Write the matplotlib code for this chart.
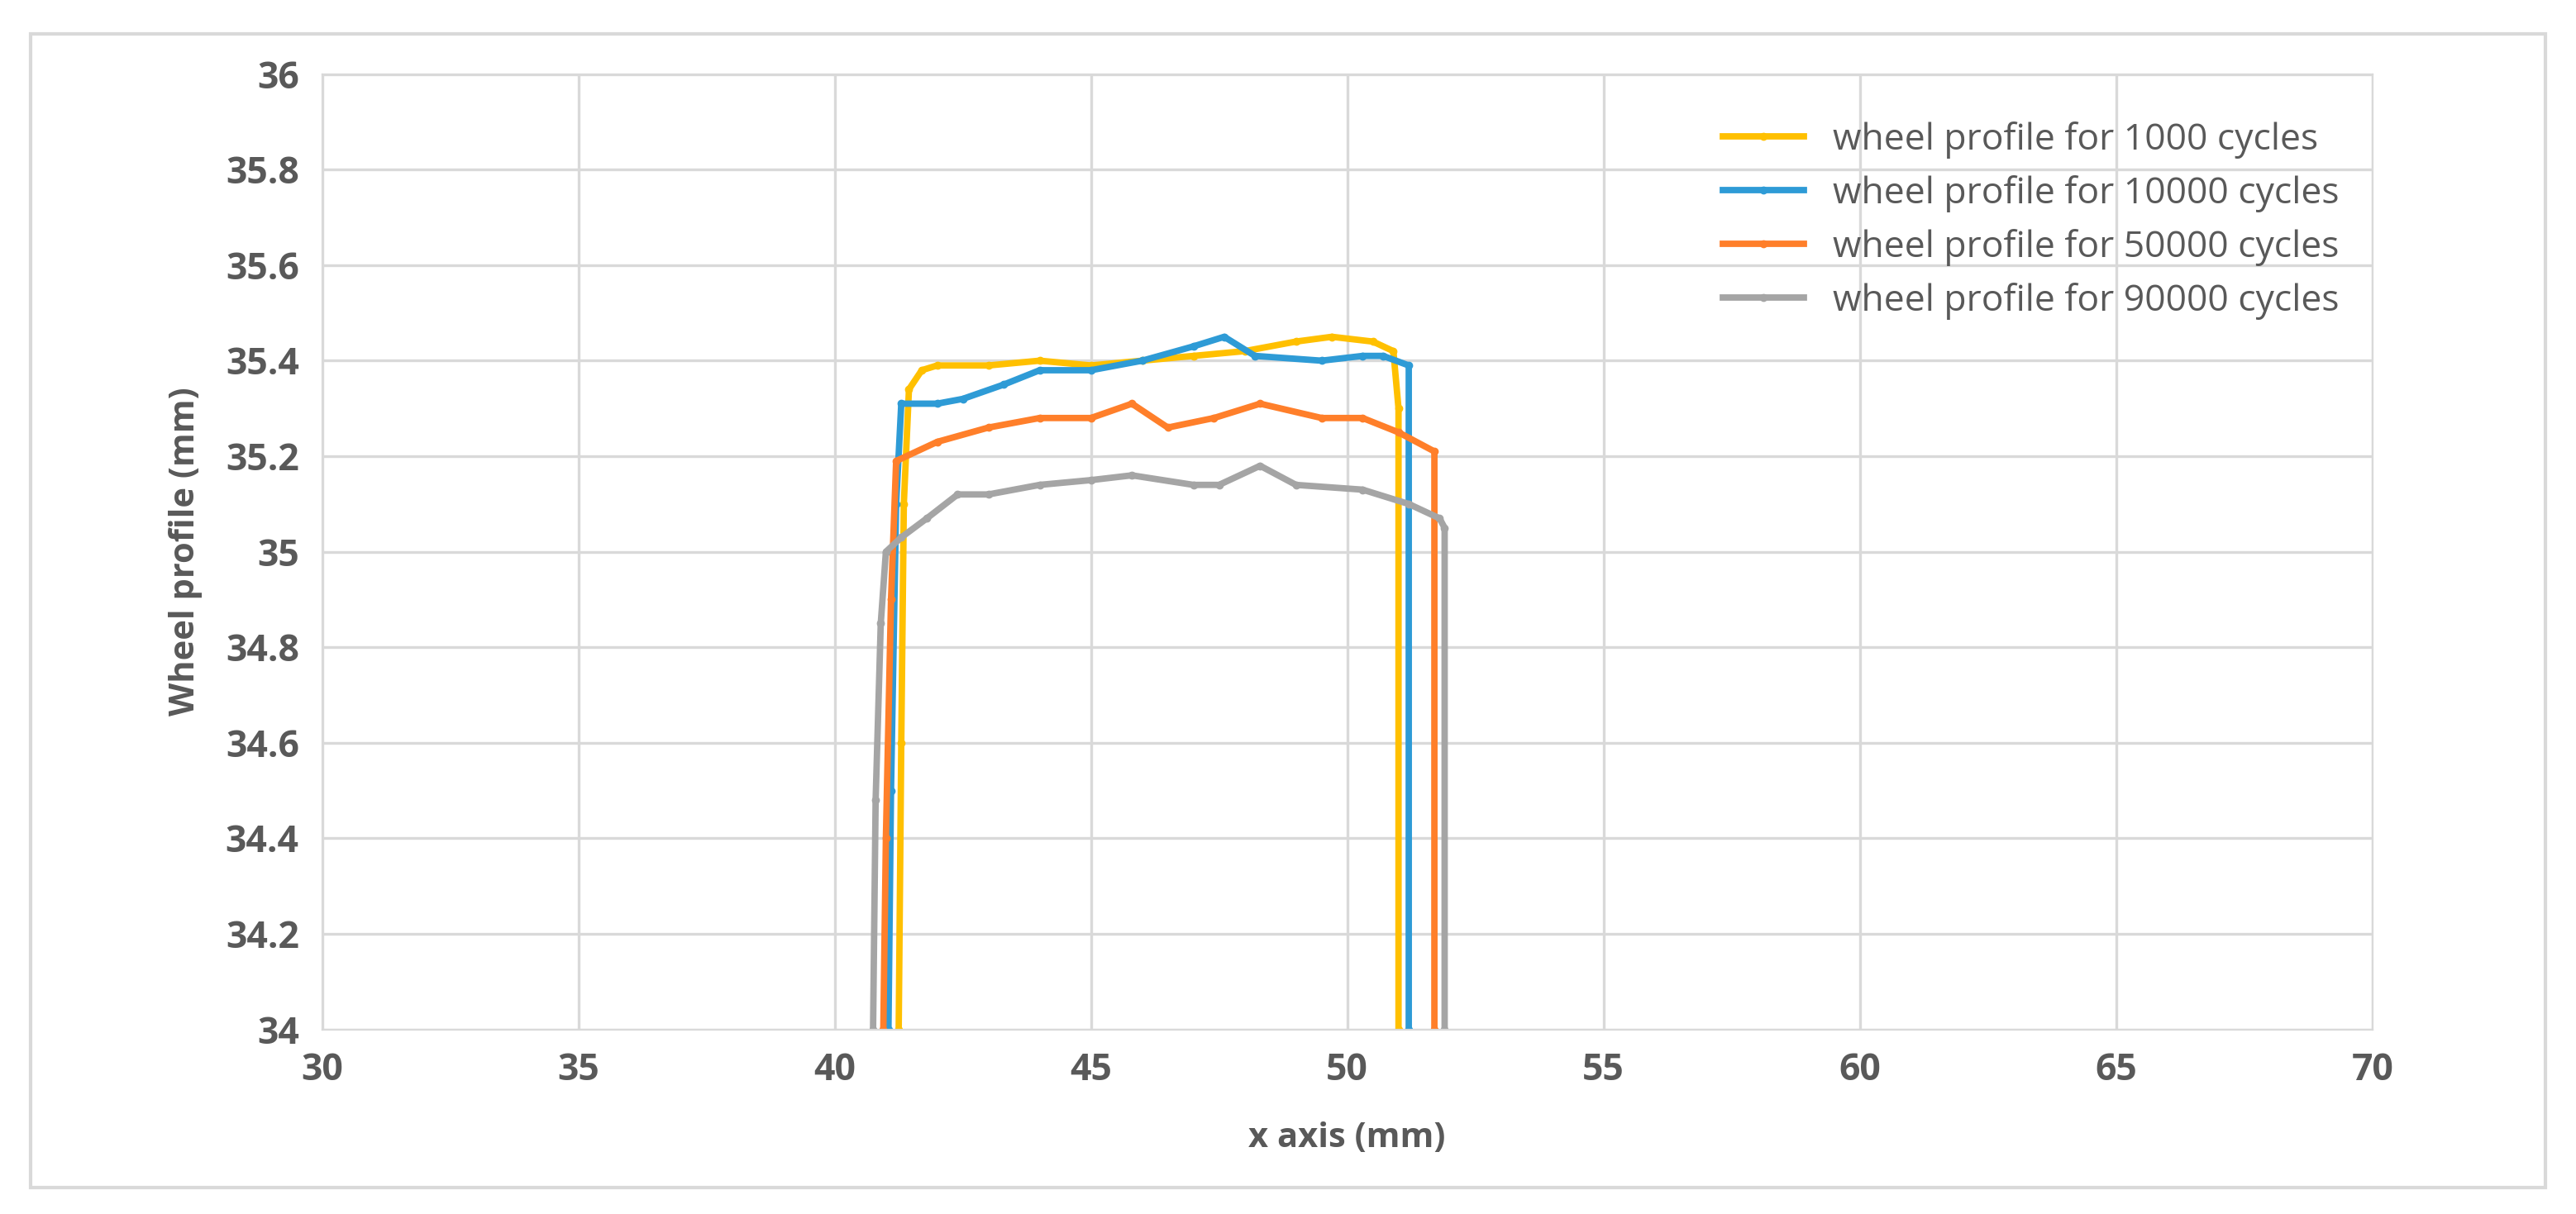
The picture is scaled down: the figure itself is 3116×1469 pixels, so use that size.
import matplotlib
matplotlib.use('Agg')
import matplotlib.pyplot as plt
from matplotlib.patches import Rectangle

# values
x_1000 = [41.25, 41.3, 41.35, 41.45, 41.7, 42.0, 43.0, 44.0, 45.0, 46.0, 47.0, 48.0, 49.0, 49.7, 50.5, 50.9, 51.0, 51.0]
y_1000 = [34.0, 34.6, 35.1, 35.34, 35.38, 35.39, 35.39, 35.40, 35.39, 35.40, 35.41, 35.42, 35.44, 35.45, 35.44, 35.42, 35.3, 34.0]

x_10000 = [41.05, 41.1, 41.2, 41.3, 42.0, 42.5, 43.3, 44.0, 45.0, 46.0, 47.0, 47.6, 48.2, 49.5, 50.3, 50.7, 51.2, 51.2]
y_10000 = [34.0, 34.5, 35.1, 35.31, 35.31, 35.32, 35.35, 35.38, 35.38, 35.40, 35.43, 35.45, 35.41, 35.40, 35.41, 35.41, 35.39, 34.0]

x_50000 = [40.95, 41.0, 41.1, 41.2, 42.0, 43.0, 44.0, 45.0, 45.8, 46.5, 47.4, 48.3, 49.5, 50.3, 51.0, 51.7, 51.7]
y_50000 = [34.0, 34.4, 34.9, 35.19, 35.23, 35.26, 35.28, 35.28, 35.31, 35.26, 35.28, 35.31, 35.28, 35.28, 35.25, 35.21, 34.0]

x_90000 = [40.75, 40.8, 40.9, 41.0, 41.3, 41.8, 42.4, 43.0, 44.0, 45.0, 45.8, 47.0, 47.5, 48.3, 49.0, 50.3, 51.2, 51.8, 51.9, 51.9]
y_90000 = [34.0, 34.48, 34.85, 35.0, 35.03, 35.07, 35.12, 35.12, 35.14, 35.15, 35.16, 35.14, 35.14, 35.18, 35.14, 35.13, 35.10, 35.07, 35.05, 34.0]

series = [
    (x_1000, y_1000, '#FFC000', 'wheel profile for 1000 cycles'),
    (x_10000, y_10000, '#2E9BD6', 'wheel profile for 10000 cycles'),
    (x_50000, y_50000, '#FF7F2A', 'wheel profile for 50000 cycles'),
    (x_90000, y_90000, '#A5A5A5', 'wheel profile for 90000 cycles'),
]

plt.rcParams['font.family'] = ['Open Sans', 'DejaVu Sans']
text_color = '#595959'

fig = plt.figure(figsize=(15.58, 7.345), dpi=200)
ax = fig.add_axes([0.125, 0.152, 0.796, 0.787])

for xs, ys, color, label in series:
    ax.plot(xs, ys, color=color, linewidth=2.8, marker='o', markersize=2.5, label=label)

ax.set_xlim(30, 70)
ax.set_ylim(34, 36)
ax.set_xticks(range(30, 71, 5))
ax.set_yticks([34 + 0.2 * i for i in range(11)])
ax.set_yticklabels(['34', '34.2', '34.4', '34.6', '34.8', '35', '35.2', '35.4', '35.6', '35.8', '36'])
ax.grid(True, color='#D9D9D9', linewidth=1.2)
ax.set_axisbelow(True)
for s in ax.spines.values():
    s.set_color('#D9D9D9')
ax.tick_params(length=0, labelsize=16, labelcolor=text_color, pad=10)
for lab in ax.get_xticklabels() + ax.get_yticklabels():
    lab.set_fontweight('bold')

ax.set_xlabel('x axis (mm)', fontsize=15, fontweight='bold', color=text_color, labelpad=14)
ax.set_ylabel('Wheel profile (mm)', fontsize=15, fontweight='bold', color=text_color, labelpad=10)

ax.legend(loc='upper right', bbox_to_anchor=(1.0, 0.985), frameon=False,
          fontsize=16, labelcolor=text_color, handlelength=2.2, labelspacing=0.45)

# outer chart border
fig.patches.append(Rectangle((0.012, 0.022), 0.976, 0.95, transform=fig.transFigure,
                             fill=False, edgecolor='#D9D9D9', linewidth=1.5))

fig.savefig('out.png', dpi=200, facecolor='white')
